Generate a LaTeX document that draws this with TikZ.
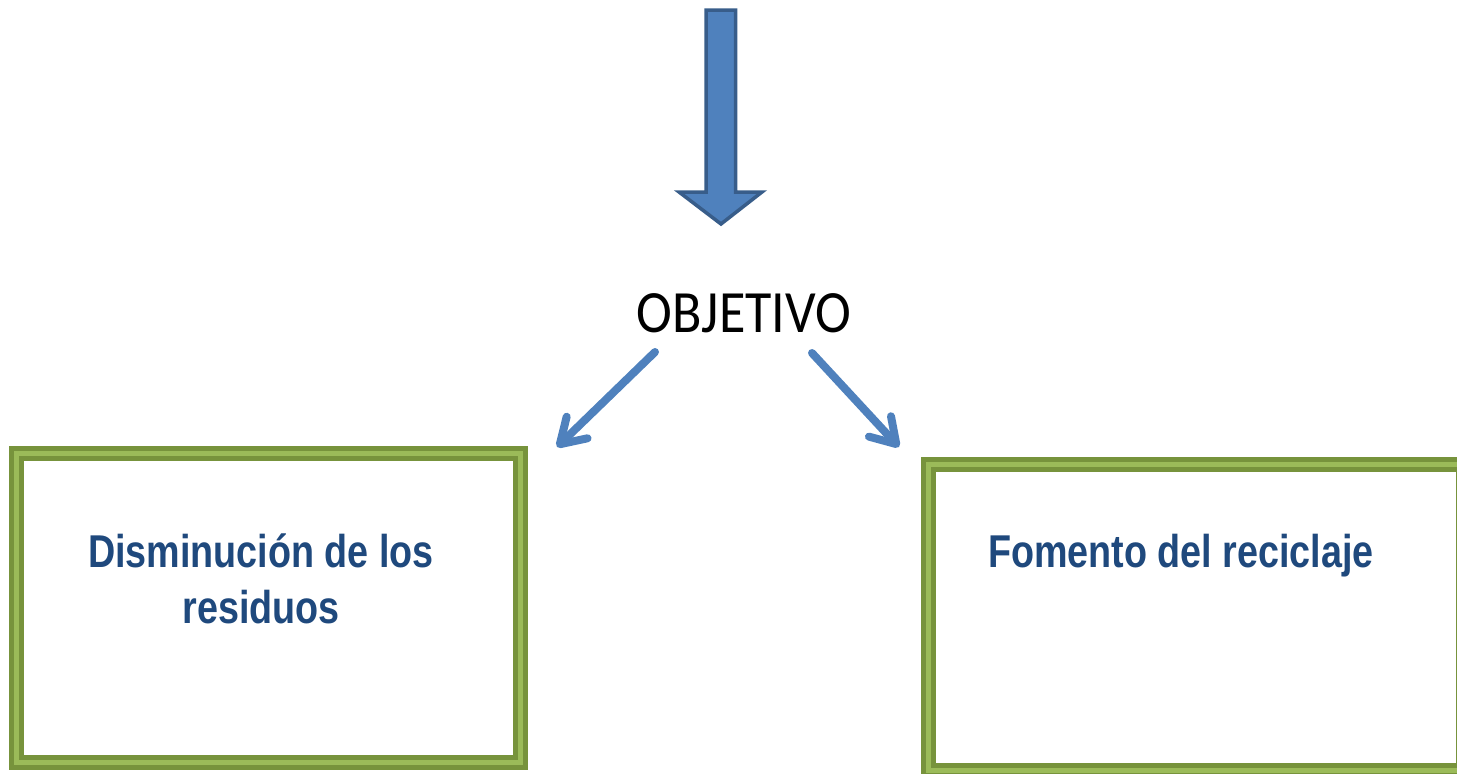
\documentclass[tikz,border=0pt]{standalone}
\usepackage{fontspec}
\setmainfont{Carlito}
\newfontfamily\boxfont{Liberation Sans}[FakeStretch=0.82]
\newfontfamily\objfont{Carlito}[FakeStretch=0.9]
\usetikzlibrary{arrows.meta,positioning}
\definecolor{arrblue}{HTML}{4F81BD}
\definecolor{arredge}{HTML}{385D8A}
\definecolor{txtblue}{HTML}{1F497D}
\definecolor{grdark}{HTML}{77933C}
\definecolor{grlight}{HTML}{9BBB59}

\begin{document}
\begin{tikzpicture}[x=1pt,y=-1pt,
  box/.style={draw=grdark, line width=5pt, double=grlight, double distance=5pt, fill=white, inner sep=0pt},
  boxtext/.style={text=txtblue, font=\boxfont\bfseries\fontsize{46}{56}\selectfont, align=center},
  branch/.style={arrblue, line width=8pt, line cap=round, -{Straight Barb[length=24pt,width=30pt,round]}}]
\clip (0,0) rectangle (1457,774);
% big arrow on top
\draw[fill=arrblue, draw=arredge, line width=3.5pt] (706,10) -- (735.5,10) -- (735.5,192) -- (762,192) -- (721,224) -- (679,192) -- (706,192) -- cycle;
\node[anchor=base, font=\objfont\fontsize{60}{72}\selectfont] (obj) at (744,332) {OBJETIVO};
% the two boxes
\node[box, minimum width=504pt, minimum height=309pt] (box1) at (268.5,608) {};
\node[box, minimum width=535pt, minimum height=306pt] (box2) at (1196,617.5) {};
\node[boxtext, anchor=base] (t1) at (261,623) {Disminución de los\\residuos};
\node[boxtext, anchor=base] (t2) at (1181,567) {Fomento del reciclaje};
% arrows from OBJETIVO
\coordinate (ls) at (655,352);
\coordinate (lt) at (557,447);
\coordinate (rs) at (812,353);
\coordinate (rt) at (899,447);
\draw[branch] (ls) -- (lt);
\draw[branch] (rs) -- (rt);
\end{tikzpicture}
\end{document}
